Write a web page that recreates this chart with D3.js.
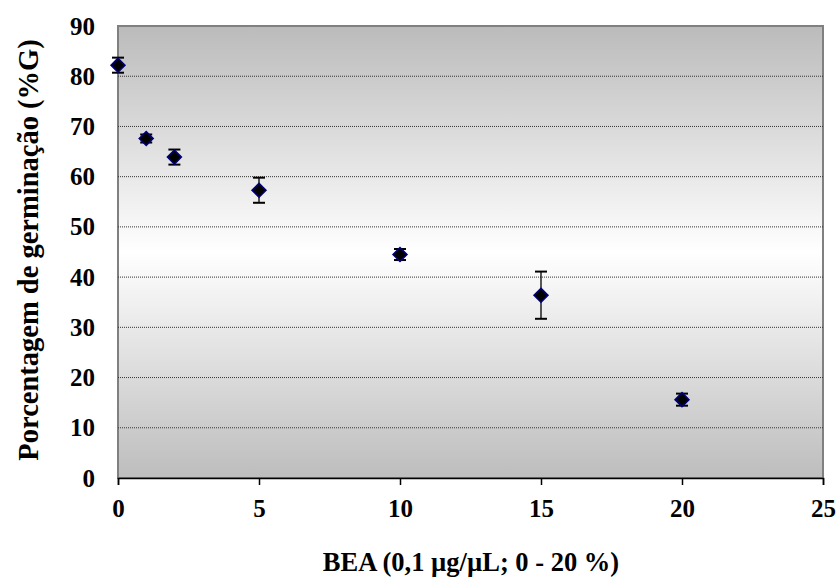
<!DOCTYPE html>
<html>
<head>
<meta charset="utf-8">
<script src="https://cdn.jsdelivr.net/npm/d3@7"></script>
<style>
  body { margin: 0; background: #fff; }
  text { font-family: "Liberation Serif", "Times New Roman", serif; font-weight: bold; }
</style>
</head>
<body>
<svg id="chart" width="840" height="583"></svg>
<script>
// data
const doses = [0, 1, 2, 5, 10, 15, 20];
const germination = [82.2, 67.6, 63.9, 57.3, 44.5, 36.4, 15.6];
const errors = [1.5, 0.8, 1.5, 2.5, 1.1, 4.7, 1.2];
const xTicks = [0, 5, 10, 15, 20, 25];
const yTicks = [0, 10, 20, 30, 40, 50, 60, 70, 80, 90];

const m = {left: 118, top: 26, right: 17, bottom: 105};
const w = 840 - m.left - m.right;
const h = 583 - m.top - m.bottom;

const svg = d3.select("#chart");

const x = d3.scaleLinear().domain([0, 25]).range([0, w]);
const y = d3.scaleLinear().domain([0, 90]).range([h, 0]);

const defs = svg.append("defs");
const grad = defs.append("linearGradient")
  .attr("id", "bg")
  .attr("x1", 0).attr("y1", 0).attr("x2", 0).attr("y2", 1);
grad.append("stop").attr("offset", "0%").attr("stop-color", "#bbbbbb");
grad.append("stop").attr("offset", "50%").attr("stop-color", "#ffffff");
grad.append("stop").attr("offset", "100%").attr("stop-color", "#bdbdbd");

const g = svg.append("g").attr("transform", `translate(${m.left},${m.top})`);

g.append("rect")
  .attr("width", w)
  .attr("height", h)
  .attr("fill", "url(#bg)")
  .attr("stroke", "#808080")
  .attr("stroke-width", 2);

// gridlines
g.selectAll(".grid")
  .data(yTicks.filter(d => d > 0 && d < 90))
  .enter()
  .append("line")
  .attr("x1", 0)
  .attr("x2", w)
  .attr("y1", d => y(d))
  .attr("y2", d => y(d))
  .attr("stroke", "#333")
  .attr("stroke-width", 1)
  .attr("stroke-dasharray", "1,1");

// x axis
const xAxis = g.append("g")
  .attr("transform", `translate(0,${h})`)
  .call(d3.axisBottom(x).tickValues(xTicks).tickSize(7).tickPadding(14));
xAxis.select(".domain").attr("stroke", "#000").attr("stroke-width", 1.5);
xAxis.selectAll(".tick line").attr("stroke", "#000").attr("stroke-width", 1.5);
xAxis.selectAll("text").style("font-size", "25px").attr("fill", "#000");

// y axis
const yAxis = g.append("g")
  .call(d3.axisLeft(y).tickValues(yTicks).tickSize(0).tickPadding(23));
yAxis.select(".domain").remove();
yAxis.selectAll("text").style("font-size", "25px").attr("fill", "#000");

// error bars
const pts = doses.map((d, i) => ({x: d, y: germination[i], e: errors[i]}));
const eb = g.selectAll(".err").data(pts).enter().append("g");
eb.append("line")
  .attr("x1", d => x(d.x)).attr("x2", d => x(d.x))
  .attr("y1", d => y(d.y + d.e)).attr("y2", d => y(d.y - d.e))
  .attr("stroke", "#000").attr("stroke-width", 1.3);
eb.selectAll(".cap")
  .data(d => [d.y + d.e, d.y - d.e].map(v => ({x: d.x, v})))
  .enter()
  .append("line")
  .attr("x1", d => x(d.x) - 6).attr("x2", d => x(d.x) + 6)
  .attr("y1", d => y(d.v)).attr("y2", d => y(d.v))
  .attr("stroke", "#000").attr("stroke-width", 2);

// diamond markers
g.selectAll(".pt")
  .data(pts)
  .enter()
  .append("path")
  .attr("transform", d => `translate(${x(d.x)},${y(d.y)})`)
  .attr("d", "M0,-7L7,0L0,7L-7,0Z")
  .attr("fill", "#000")
  .attr("stroke", "#000080")
  .attr("stroke-width", 1.5);

// axis titles
svg.append("text")
  .attr("x", 471)
  .attr("y", 571)
  .attr("text-anchor", "middle")
  .style("font-size", "26.5px")
  .text("BEA (0,1 µg/µL; 0 - 20 %)");

svg.append("text")
  .attr("transform", "translate(38,250) rotate(-90)")
  .attr("text-anchor", "middle")
  .style("font-size", "28.5px")
  .text("Porcentagem de germinação (%G)");
</script>
</body>
</html>
